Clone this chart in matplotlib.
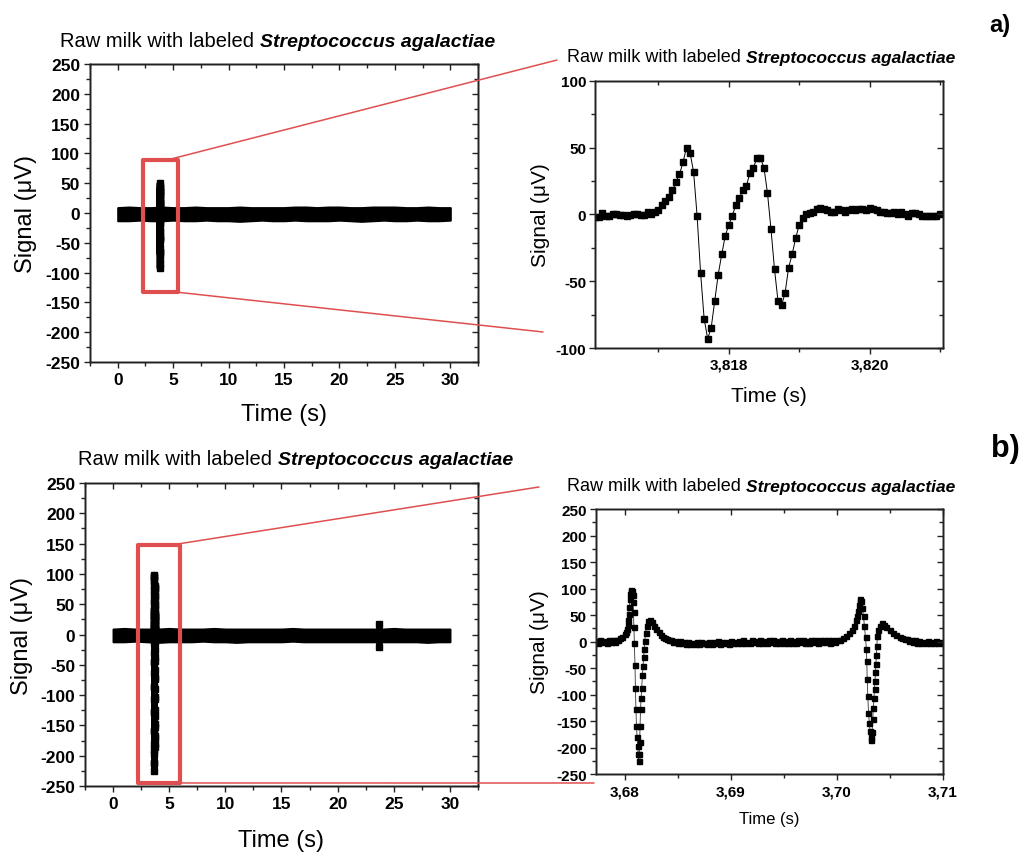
import matplotlib
matplotlib.use("Agg")
import matplotlib.pyplot as plt
from matplotlib.patches import Rectangle, ConnectionPatch
from matplotlib.text import Annotation
from matplotlib.ticker import MultipleLocator, FuncFormatter
import numpy as np

plt.rcParams['font.family'] = ['Liberation Sans', 'DejaVu Sans']
plt.rcParams['axes.unicode_minus'] = False

RED = '#e04f4f'
TITLE_PLAIN = 'Raw milk with labeled'
TITLE_SPECIES = 'Streptococcus agalactiae'
YLABEL = 'Signal (\u03bcV)'
XLABEL = 'Time (s)'

# ---- a) zoomed trace, sampled every 50 us starting at A_T0
A_T0 = 3.8161
A_DT = 0.00005
a_sig = [-2, -2, 1, -1, -1, 0, 0, -0.5, -0.5, -1,
         -0.5, 0.5, 0, -0.5, -0.5, 1.5, 0.5, 2, 3, 7,
         10, 13, 18, 24, 30, 39, 50, 46, 32, -1,
         -44, -78, -93, -85, -65, -45, -30, -16, -8, -1,
         7, 12, 18, 21, 31, 35, 42, 42, 35, 16,
         -11, -41, -65, -68, -59, -40, -30, -18, -8, -3,
         0, 1, 2, 4, 5, 4, 3, 2, 2, 4,
         3, 2, 3, 4, 3, 4, 4, 3, 5, 4,
         3, 2, 2, 1, 1, 2, 0, 2, 0, -1,
         1, 1, 0, -1, -1, -1, -1, -1, 0]
a_time = A_T0 + A_DT * np.arange(len(a_sig))

# ---- b) zoomed trace (time in s, signal in uV)
# quiet stretch between the two events, one point every 0.2 ms from 3.6852 s
B_QUIET_T0 = 3.6852
B_QUIET_DT = 0.0002
b_quiet_sig = [1, -3, 0, -4, -1, -5, -2, -4, 0, -5,
               -1, -3, -2, -5, 0, -4, -1, -3, 1, -4,
               -1, -3, 0, -4, 1, -3, -1, -2, 1, -3,
               2, -2, 0, -3, 2, -1, 1, -2, 2, -2,
               1, -3, 2, -1, 3, -2, 1, -2, 2, -3,
               1, -2, 2, -2, 1, -3, 2, -1, 2, -2,
               1, -2, 2, -1, 3, -2, 2, -1, 3, -1,
               2, -2, 3, -1, 2]
b_quiet_time = B_QUIET_T0 + B_QUIET_DT * np.arange(len(b_quiet_sig))

b_ev1_time = [3.6773, 3.6775, 3.6777, 3.6779, 3.6781, 3.6783, 3.6785, 3.6787, 3.6789, 3.6791,
              3.6792, 3.6794, 3.6796, 3.6798, 3.6800,
              3.6801, 3.6802, 3.6803, 3.68035, 3.6804, 3.68045, 3.6805, 3.68055, 3.6806, 3.68065,
              3.6807, 3.68075,
              3.68079, 3.68084, 3.68088, 3.68093, 3.68098, 3.68102, 3.68107, 3.68112, 3.68118, 3.68124,
              3.68128, 3.68132,
              3.68138, 3.68142, 3.68146, 3.6815, 3.68156, 3.68162, 3.68168, 3.68174, 3.6818, 3.68184,
              3.6819, 3.68198, 3.68208, 3.6822, 3.6824, 3.6826, 3.6828, 3.683, 3.6832, 3.6834,
              3.6836, 3.6838, 3.684, 3.6842, 3.6844, 3.6846, 3.6848, 3.685]
b_ev1_sig = [1, -2, 2, -1, 1, -2, 2, -1, 2, 0,
             2, 3, 6, 9, 14,
             18, 24, 32, 40, 52, 66, 80, 90, 96, 98,
             95, 88,
             74, 55, 28, -2, -45, -87, -128, -159, -181, -197,
             -212, -226,
             -212, -190, -160, -128, -106, -87, -64, -46, -30, -14,
             1, 16, 30, 38, 40, 36, 30, 24, 18, 13,
             9, 6, 4, 2, 3, 0, 1, -2]
b_ev2_time = [3.7003, 3.7006, 3.7009, 3.7012, 3.7014, 3.7016, 3.7018, 3.7019, 3.702, 3.70208,
              3.70216, 3.70224, 3.70232, 3.7024,
              3.70254, 3.70261, 3.70272, 3.7028, 3.70284, 3.70288, 3.70294, 3.703, 3.70308, 3.70314,
              3.7032, 3.70326,
              3.70334, 3.7034, 3.70346, 3.70352, 3.70358, 3.70362, 3.70366, 3.7037, 3.70374, 3.70378,
              3.70384, 3.70394, 3.7041, 3.7043, 3.7045, 3.7047, 3.705, 3.7053, 3.7056, 3.706,
              3.7062, 3.7064, 3.7066, 3.7068, 3.707, 3.7072, 3.7074, 3.7076, 3.7078, 3.708,
              3.7082, 3.7084, 3.7086, 3.7088, 3.709, 3.7092, 3.7094, 3.7096, 3.7098, 3.71]
b_ev2_sig = [3, 6, 10, 16, 22, 30, 40, 48, 58, 68,
             76, 80, 76, 64,
             48, 29, 8, -14, -37, -70, -103, -134, -153, -168,
             -180, -185,
             -170, -147, -125, -106, -90, -74, -58, -43, -26, -8,
             10, 22, 30, 35, 32, 28, 22, 17, 12, 8,
             7, 4, 5, 1, 3, -1, 2, -2, 1, -2,
             0, -3, 1, -3, 0, -2, 1, -3, 0, -2]
b_time = np.concatenate([b_ev1_time, b_quiet_time, b_ev2_time])
b_sig = np.concatenate([b_ev1_sig, b_quiet_sig, b_ev2_sig])

# ---- 30 s overview: per-second envelope of the noise band
env_t = list(range(31))
a_env_hi = [9, 10, 9, 9, 10, 9, 9, 10, 9, 9, 9, 10, 9, 9, 9, 9, 10, 10, 9, 10,
            10, 9, 9, 10, 10, 10, 9, 9, 10, 9, 9]
a_env_lo = [-13, -13, -12, -13, -13, -12, -13, -13, -12, -13, -13, -14, -13, -12, -13, -13,
            -12, -13, -13, -13, -12, -13, -14, -13, -12, -13, -13, -12, -13, -13, -12]
b_env_hi = [9, 10, 9, 9, 9, 10, 9, 9, 9, 10, 9, 9, 9, 9, 9, 9, 10, 9, 9, 9,
            9, 9, 9, 9, 9, 10, 9, 9, 9, 9, 9]
b_env_lo = [-12, -12, -11, -12, -13, -12, -12, -12, -11, -12, -12, -13, -12, -12, -12, -12,
            -11, -12, -12, -12, -12, -12, -12, -12, -12, -12, -12, -12, -13, -12, -12]
# small extra event in recording b)
b_extra_t = [23.7, 23.7]
b_extra_sig = [-21, 17]

# zoom windows drawn on the overviews (time range, signal range)
A_BOX_T, A_BOX_V = (2.3, 5.4), (-133, 89)
B_BOX_T, B_BOX_V = (2.2, 5.95), (-245, 148)


def style(ax, xmaj, xmin, ymaj, ymin, labelsize, xpad, ypad, fmt=None):
    ax.xaxis.set_major_locator(MultipleLocator(xmaj))
    ax.xaxis.set_minor_locator(MultipleLocator(xmin))
    ax.yaxis.set_major_locator(MultipleLocator(ymaj))
    ax.yaxis.set_minor_locator(MultipleLocator(ymin))
    if fmt is not None:
        ax.xaxis.set_major_formatter(FuncFormatter(fmt))
    ax.tick_params(which='both', direction='out', labelsize=labelsize, width=1, color='#222222')
    ax.tick_params(which='major', length=4.5)
    ax.tick_params(which='minor', length=2.6)
    ax.tick_params(axis='x', pad=xpad)
    ax.tick_params(axis='y', pad=ypad)
    for sp in ax.spines.values():
        sp.set_linewidth(1)
        sp.set_color('#222222')
    # mirrored ticks pointing inwards on top and right
    top = ax.twiny()
    top.set_xlim(ax.get_xlim())
    top.xaxis.set_major_locator(MultipleLocator(xmaj))
    top.xaxis.set_minor_locator(MultipleLocator(xmin))
    top.tick_params(axis='x', which='both', direction='in', labeltop=False, width=1, color='#222222')
    top.tick_params(axis='x', which='major', length=4.5)
    top.tick_params(axis='x', which='minor', length=2.6)
    right = ax.twinx()
    right.set_ylim(ax.get_ylim())
    right.yaxis.set_major_locator(MultipleLocator(ymaj))
    right.yaxis.set_minor_locator(MultipleLocator(ymin))
    right.tick_params(axis='y', which='both', direction='in', labelright=False, width=1, color='#222222')
    right.tick_params(axis='y', which='major', length=4.5)
    right.tick_params(axis='y', which='minor', length=2.6)
    for t in (top, right):
        for sp in t.spines.values():
            sp.set_linewidth(1)
            sp.set_color('#222222')


def add_title(fig, x, y, size1, size2):
    t1 = fig.text(x, y, TITLE_PLAIN, fontsize=size1, va='baseline')
    t2 = Annotation(TITLE_SPECIES, xy=(1, 0), xycoords=t1, xytext=(4, 0),
                    textcoords='offset points', fontsize=size2, fontweight='bold',
                    style='italic', va='bottom', ha='left')
    fig.add_artist(t2)


def overview(ax, env_hi, env_lo, tr_t, tr_v):
    ax.fill_between(env_t, env_lo, env_hi, color='black', lw=1.5)
    ax.plot(tr_t, tr_v, '-s', color='black', lw=4.8, ms=4.8, solid_capstyle='butt')
    ax.set_xlim(-2.5, 32.5)
    ax.set_ylim(-250, 250)


fig = plt.figure(figsize=(10.24, 8.62), dpi=100)

# ---------------- a) overview
ax_a = fig.add_axes([0.0879, 0.5789, 0.3789, 0.3457])
overview(ax_a, a_env_hi, a_env_lo, a_time, a_sig)
ax_a.add_patch(Rectangle((A_BOX_T[0], A_BOX_V[0]), A_BOX_T[1] - A_BOX_T[0], A_BOX_V[1] - A_BOX_V[0],
                         fill=False, ec=RED, lw=3, joinstyle='round', zorder=5))
ax_a.set_xlabel(XLABEL, fontsize=17, labelpad=11)
ax_a.set_ylabel(YLABEL, fontsize=17, labelpad=6)
style(ax_a, 5, 2.5, 50, 25, 12.5, 3, 2.5)

# ---------------- a) zoom
ax_az = fig.add_axes([0.5811, 0.5951, 0.3395, 0.3101])
ax_az.plot(a_time, a_sig, '-s', color='black', lw=0.7, ms=3.8, mec='black')
ax_az.set_xlim(3.8161, 3.82104)
ax_az.set_ylim(-100, 100)
ax_az.set_xlabel(XLABEL, fontsize=15, labelpad=11)
ax_az.set_ylabel(YLABEL, fontsize=15, labelpad=4)
style(ax_az, 0.002, 0.001, 50, 25, 11, 2, 2,
      fmt=lambda v, _: f'{v:.3f}'.replace('.', ','))

# ---------------- b) overview
ax_b = fig.add_axes([0.0830, 0.0870, 0.3838, 0.3515])
overview(ax_b, b_env_hi, b_env_lo, b_time, b_sig)
ax_b.plot(b_extra_t, b_extra_sig, '-s', color='black', lw=4.8, ms=4.8, solid_capstyle='butt')
ax_b.add_patch(Rectangle((B_BOX_T[0], B_BOX_V[0]), B_BOX_T[1] - B_BOX_T[0], B_BOX_V[1] - B_BOX_V[0],
                         fill=False, ec=RED, lw=3, joinstyle='round', zorder=5, clip_on=False))
ax_b.set_xlabel(XLABEL, fontsize=17, labelpad=12.5)
ax_b.set_ylabel(YLABEL, fontsize=17, labelpad=5)
style(ax_b, 5, 2.5, 50, 25, 12.5, 3, 2.5)

# ---------------- b) zoom
ax_bz = fig.add_axes([0.5820, 0.1009, 0.3386, 0.3074])
ax_bz.plot(b_time, b_sig, '-s', color='#333333', lw=0.6, ms=3.6, mfc='black', mec='black')
ax_bz.set_xlim(3.6773, 3.71)
ax_bz.set_ylim(-250, 250)
ax_bz.set_xlabel(XLABEL, fontsize=12, labelpad=9)
ax_bz.set_ylabel(YLABEL, fontsize=15, labelpad=5)
style(ax_bz, 0.01, 0.005, 50, 25, 11, 3, 2,
      fmt=lambda v, _: f'{v:.2f}'.replace('.', ','))

# connector lines from the zoom boxes to the zoomed panels
for axA, xyA, xyB in [(ax_a, (4.47, A_BOX_V[1]), (0.5439, 0.9292)),
                      (ax_a, (A_BOX_T[1], A_BOX_V[0]), (0.5303, 0.6137)),
                      (ax_b, (5.3, B_BOX_V[1]), (0.5264, 0.4339)),
                      (ax_b, (B_BOX_T[1], B_BOX_V[0]), (0.5801, 0.0905))]:
    con = ConnectionPatch(xyA=xyA, coordsA=axA.transData, xyB=xyB, coordsB='figure fraction',
                          color=RED, lw=1.1, zorder=6)
    fig.add_artist(con)

add_title(fig, 0.0586, 0.9455, 14.5, 14)
add_title(fig, 0.5537, 0.9281, 13, 12.5)
add_title(fig, 0.0762, 0.4606, 14.5, 14)
add_title(fig, 0.5537, 0.4308, 13, 12.5)

fig.text(0.966, 0.963, 'a)', fontsize=17, fontweight='bold', va='baseline')
fig.text(0.968, 0.470, 'b)', fontsize=22, fontweight='bold', va='baseline')

# bold tick labels, as in the original
fig.canvas.draw()
for ax in (ax_a, ax_az, ax_b, ax_bz):
    for lab in ax.get_xticklabels() + ax.get_yticklabels():
        lab.set_fontweight('bold')

fig.savefig('out.png', dpi=100)
